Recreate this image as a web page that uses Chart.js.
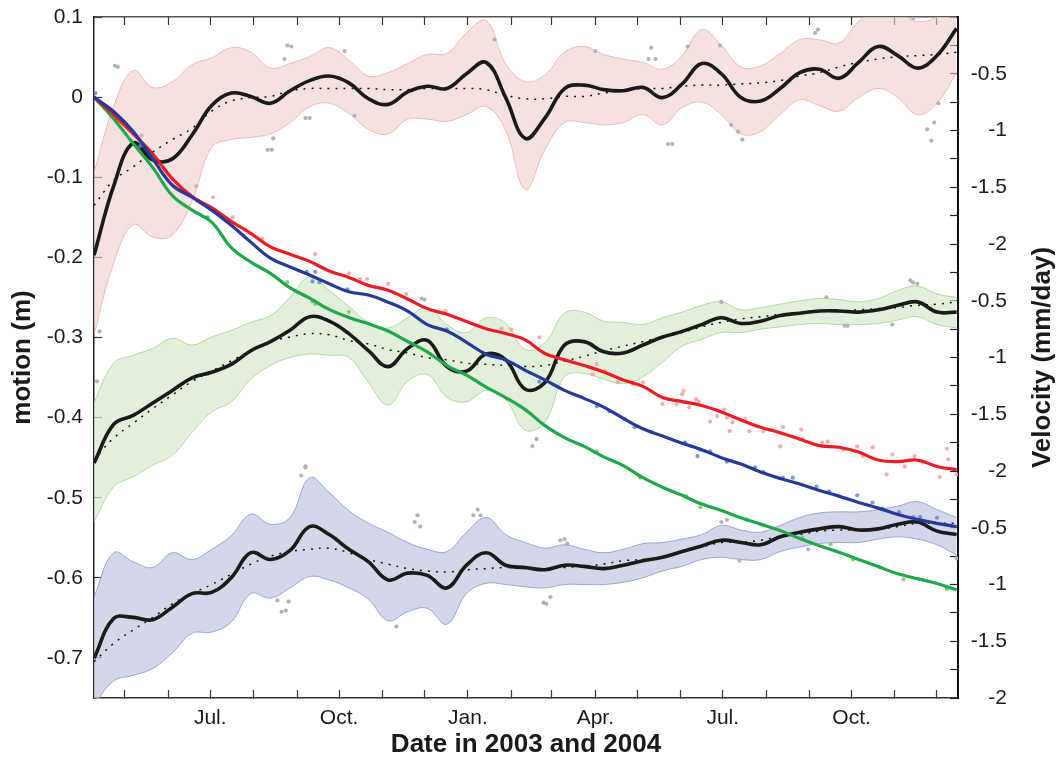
<!DOCTYPE html>
<html lang="en">
<head>
<meta charset="UTF-8">
<title>Motion and velocity, 2003-2004</title>
<script src="https://cdn.jsdelivr.net/npm/chart.js"></script>
<style>
  body { margin: 0; background: #fff; }
</style>
</head>
<body>
<canvas id="chart" width="1058" height="760"></canvas>
<script>
// x positions: day number counted from 1 Jan 2003
const days = [98, 112, 126, 140, 154, 168, 182, 196, 210, 224, 238, 252, 266, 280, 294,
  308, 322, 336, 350, 364, 378, 392, 406, 420, 434, 448, 462, 476, 490, 504,
  518, 532, 546, 560, 574, 588, 602, 616, 630, 644, 658, 672, 686, 700, 714];

// month ticks (1st of each month) and their labels
const monthStarts = [120, 151, 181, 212, 243, 273, 304, 334, 365, 396, 425, 456, 486, 517, 547, 578, 609, 639, 670, 700];
const monthLabels = ['', '', 'Jul.', '', '', 'Oct.', '', '', 'Jan.', '', '', 'Apr.', '', '', 'Jul.', '', '', 'Oct.', '', ''];

// left axis ticks (m)
const motionTicks = [-0.7, -0.6, -0.5, -0.4, -0.3, -0.2, -0.1, 0, 0.1];
const motionTickLabels = ['-0.7', '-0.6', '-0.5', '-0.4', '-0.3', '-0.2', '-0.1', '0', '0.1'];

// right axis: three stacked velocity panels, 2 mm/day each
const velocityTicks = [-6, -5.75, -5.5, -5.25, -5, -4.75, -4.5, -4.25, -4, -3.75, -3.5, -3.25,
  -3, -2.75, -2.5, -2.25, -2, -1.75, -1.5, -1.25, -1, -0.75, -0.5, -0.25, 0];
const velocityTickLabels = ['-2', '', '-1.5', '', '-1', '', '-0.5', '', '-2', '', '-1.5', '',
  '-1', '', '-0.5', '', '-2', '', '-1.5', '', '-1', '', '-0.5', '', ''];
const panelShift = [0, -2, -4];

// motion (m)
const redMotion = [0, -0.022, -0.046, -0.071, -0.102, -0.124, -0.138, -0.155, -0.170, -0.187, -0.196, -0.205, -0.217, -0.225, -0.235,
  -0.241, -0.252, -0.264, -0.271, -0.280, -0.289, -0.295, -0.303, -0.320, -0.328, -0.335, -0.343, -0.353, -0.361, -0.375,
  -0.380, -0.385, -0.393, -0.403, -0.412, -0.419, -0.427, -0.435, -0.437, -0.443, -0.453, -0.455, -0.453, -0.461, -0.465];
const blueMotion = [0, -0.018, -0.043, -0.077, -0.110, -0.125, -0.141, -0.160, -0.181, -0.201, -0.212, -0.222, -0.233, -0.243, -0.247,
  -0.256, -0.267, -0.284, -0.292, -0.306, -0.321, -0.328, -0.341, -0.353, -0.366, -0.376, -0.387, -0.401, -0.414, -0.423,
  -0.432, -0.440, -0.450, -0.458, -0.468, -0.476, -0.483, -0.491, -0.498, -0.506, -0.513, -0.521, -0.527, -0.532, -0.536];
const greenMotion = [0, -0.027, -0.058, -0.088, -0.123, -0.141, -0.156, -0.188, -0.206, -0.220, -0.238, -0.251, -0.265, -0.275, -0.283,
  -0.292, -0.305, -0.318, -0.335, -0.347, -0.362, -0.375, -0.390, -0.410, -0.425, -0.436, -0.449, -0.460, -0.475, -0.487,
  -0.497, -0.508, -0.516, -0.525, -0.533, -0.541, -0.551, -0.560, -0.568, -0.577, -0.586, -0.595, -0.601, -0.607, -0.615];

// motion samples (scatter)
const redDotDays = [132, 171, 183, 197, 206, 218, 256, 280, 288, 293, 308, 321, 349, 389, 396, 416, 454,
  457, 463, 472, 483, 490, 504, 514, 518, 519, 523, 528, 530, 538, 543, 548, 550, 552, 554, 563, 566,
  571, 576, 582, 588, 590, 603, 604, 618, 622, 633, 643, 647, 654, 664, 668, 677, 684, 690, 702, 707, 708, 714];
const redDotVals = [-0.048, -0.111, -0.125, -0.150, -0.165, -0.177, -0.196, -0.220, -0.227, -0.227, -0.233, -0.246, -0.267, -0.289, -0.290, -0.300, -0.346,
  -0.333, -0.342, -0.356, -0.358, -0.356, -0.383, -0.383, -0.371, -0.367, -0.387, -0.377, -0.380, -0.405, -0.398, -0.390, -0.400, -0.417, -0.406, -0.402, -0.417,
  -0.411, -0.417, -0.415, -0.436, -0.412, -0.415, -0.427, -0.431, -0.430, -0.440, -0.436, -0.448, -0.437, -0.471, -0.446, -0.461, -0.448, -0.456, -0.474, -0.439, -0.452, -0.471];
const blueDotDays = [99, 131, 179, 250, 256, 254, 259, 279, 350, 416, 457,
  466, 477, 484, 496, 520, 529, 531, 538, 550, 570, 576, 590, 597, 614, 623, 643, 654, 661, 673, 683, 688, 700];
const blueDotVals = [0.005, -0.061, -0.150, -0.218, -0.218, -0.230, -0.231, -0.240, -0.290, -0.355, -0.386,
  -0.392, -0.402, -0.412, -0.418, -0.431, -0.448, -0.440, -0.442, -0.455, -0.462, -0.468, -0.475, -0.475, -0.486, -0.492, -0.497, -0.506, -0.514, -0.518, -0.524, -0.524, -0.525];
const greenDotDays = [236, 254, 256, 280, 457, 488, 521, 531, 564, 604, 624, 640, 659, 676, 707];
const greenDotVals = [-0.231, -0.255, -0.258, -0.268, -0.442, -0.475, -0.498, -0.512, -0.527, -0.550, -0.558, -0.577, -0.587, -0.602, -0.614];

// velocity (mm/day), top panel
const topVel = [-2.10, -1.49, -1.11, -1.26, -1.25, -1.04, -0.78, -0.67, -0.70, -0.76, -0.65, -0.56, -0.52, -0.58, -0.72,
  -0.77, -0.66, -0.61, -0.63, -0.50, -0.40, -0.71, -1.07, -0.89, -0.63, -0.60, -0.64, -0.65, -0.62, -0.71,
  -0.59, -0.41, -0.50, -0.71, -0.74, -0.63, -0.49, -0.46, -0.54, -0.40, -0.26, -0.34, -0.45, -0.34, -0.10];
const topTrend = [-1.66, -1.44, -1.32, -1.19, -1.08, -0.98, -0.83, -0.74, -0.71, -0.70, -0.65, -0.63, -0.63, -0.63, -0.63,
  -0.64, -0.64, -0.63, -0.63, -0.63, -0.64, -0.69, -0.72, -0.72, -0.70, -0.70, -0.67, -0.65, -0.63, -0.63,
  -0.61, -0.60, -0.60, -0.59, -0.58, -0.56, -0.52, -0.49, -0.44, -0.40, -0.37, -0.35, -0.34, -0.33, -0.31];
const topUpper = [-1.37, -0.79, -0.47, -0.62, -0.57, -0.42, -0.36, -0.27, -0.31, -0.45, -0.41, -0.35, -0.27, -0.38, -0.52,
  -0.49, -0.41, -0.33, -0.32, -0.14, -0.03, -0.41, -0.57, -0.51, -0.31, -0.26, -0.33, -0.37, -0.40, -0.46,
  -0.34, -0.11, -0.25, -0.44, -0.43, -0.32, -0.20, -0.20, -0.23, -0.04, 0.06, 0.04, -0.04, 0.00, 0.11];
const topLower = [-2.80, -2.17, -1.83, -1.94, -1.92, -1.62, -1.15, -1.08, -1.06, -1.03, -0.93, -0.79, -0.76, -0.85, -0.99,
  -1.03, -0.90, -0.90, -0.92, -0.86, -0.79, -1.00, -1.52, -1.17, -0.93, -0.93, -0.95, -0.93, -0.86, -0.95,
  -0.80, -0.75, -0.86, -1.03, -1.01, -0.86, -0.73, -0.78, -0.83, -0.71, -0.63, -0.71, -0.86, -0.76, -0.49];

// middle panel
const midVel = [-1.93, -1.59, -1.51, -1.40, -1.29, -1.18, -1.13, -1.06, -0.94, -0.86, -0.76, -0.64, -0.68, -0.79, -0.94,
  -1.08, -0.92, -0.85, -1.08, -1.12, -0.97, -1.02, -1.28, -1.22, -0.89, -0.86, -0.95, -0.96, -0.89, -0.82,
  -0.77, -0.71, -0.65, -0.70, -0.68, -0.63, -0.61, -0.59, -0.59, -0.60, -0.58, -0.54, -0.51, -0.60, -0.60];
const midTrend = [-1.90, -1.71, -1.58, -1.45, -1.33, -1.21, -1.12, -1.03, -0.94, -0.86, -0.82, -0.79, -0.80, -0.85, -0.88,
  -0.93, -0.96, -1.00, -1.02, -1.05, -1.06, -1.07, -1.08, -1.07, -1.03, -0.99, -0.94, -0.90, -0.86, -0.82,
  -0.78, -0.73, -0.69, -0.66, -0.64, -0.62, -0.61, -0.59, -0.59, -0.58, -0.57, -0.56, -0.54, -0.53, -0.51];
const midUpper = [-1.40, -1.05, -0.98, -0.92, -0.83, -0.89, -0.82, -0.76, -0.69, -0.63, -0.47, -0.29, -0.41, -0.55, -0.69,
  -0.74, -0.65, -0.56, -0.71, -0.78, -0.65, -0.70, -0.93, -0.87, -0.61, -0.60, -0.68, -0.69, -0.71, -0.65,
  -0.60, -0.54, -0.51, -0.58, -0.56, -0.53, -0.50, -0.48, -0.49, -0.51, -0.48, -0.41, -0.37, -0.44, -0.47];
const midLower = [-2.45, -2.14, -2.05, -1.95, -1.86, -1.66, -1.48, -1.39, -1.19, -1.07, -1.00, -0.97, -0.98, -1.00, -1.22,
  -1.42, -1.21, -1.15, -1.35, -1.39, -1.29, -1.37, -1.64, -1.57, -1.17, -1.14, -1.19, -1.23, -1.17, -1.04,
  -0.90, -0.84, -0.78, -0.78, -0.75, -0.73, -0.71, -0.70, -0.71, -0.71, -0.70, -0.67, -0.64, -0.71, -0.74];

// bottom panel
const botVel = [-1.65, -1.30, -1.29, -1.31, -1.20, -1.08, -1.07, -0.94, -0.72, -0.78, -0.70, -0.49, -0.56, -0.69, -0.80,
  -0.96, -0.90, -0.92, -1.03, -0.83, -0.72, -0.83, -0.85, -0.87, -0.83, -0.84, -0.86, -0.83, -0.79, -0.76,
  -0.71, -0.66, -0.61, -0.63, -0.65, -0.58, -0.54, -0.51, -0.49, -0.52, -0.51, -0.47, -0.45, -0.53, -0.56];
const botTrend = [-1.68, -1.52, -1.40, -1.29, -1.17, -1.08, -1.00, -0.91, -0.82, -0.75, -0.71, -0.69, -0.68, -0.72, -0.78,
  -0.82, -0.86, -0.88, -0.89, -0.87, -0.86, -0.85, -0.86, -0.86, -0.85, -0.84, -0.82, -0.79, -0.78, -0.76,
  -0.71, -0.67, -0.63, -0.63, -0.61, -0.58, -0.56, -0.53, -0.52, -0.52, -0.51, -0.49, -0.46, -0.46, -0.46];
const botUpper = [-1.11, -0.72, -0.80, -0.85, -0.72, -0.78, -0.69, -0.57, -0.38, -0.47, -0.41, -0.06, -0.19, -0.35, -0.46,
  -0.54, -0.63, -0.69, -0.71, -0.54, -0.41, -0.56, -0.63, -0.68, -0.65, -0.69, -0.72, -0.69, -0.64, -0.63,
  -0.60, -0.56, -0.48, -0.52, -0.54, -0.48, -0.41, -0.37, -0.36, -0.36, -0.34, -0.31, -0.27, -0.34, -0.41];
const botLower = [-2.06, -1.85, -1.80, -1.74, -1.60, -1.43, -1.42, -1.33, -1.08, -1.12, -1.03, -0.93, -0.96, -1.03, -1.13,
  -1.32, -1.24, -1.21, -1.35, -1.08, -0.99, -1.00, -1.02, -1.03, -1.00, -1.00, -1.00, -0.98, -0.94, -0.88,
  -0.84, -0.78, -0.76, -0.78, -0.78, -0.71, -0.67, -0.64, -0.63, -0.63, -0.60, -0.58, -0.60, -0.65, -0.74];

// single velocity estimates (grey dots)
const topDotDays = [102, 113, 115, 222, 225, 226, 234, 236, 239, 249, 252, 277, 284, 384, 456, 494, 496, 499, 508, 511, 522, 545, 553, 558, 561, 613, 615, 683, 693, 696, 698, 701];
const topDotVals = [-2.77, -0.43, -0.44, -1.17, -1.17, -1.07, -0.37, -0.25, -0.26, -0.89, -0.89, -0.30, -0.87, -0.20, -0.30, -0.37, -0.27, -0.37, -1.12, -1.12, -0.26, -0.25, -0.95, -1.01, -1.08, -0.14, -0.11, -0.01, -0.99, -1.09, -0.93, -0.76];
const midDotDays = [100, 249, 332, 334, 411, 414, 546, 621, 634, 636, 668, 681, 683, 686];
const midDotVals = [-1.21, -1.97, -0.48, -0.49, -1.78, -1.72, -0.51, -0.47, -0.72, -0.72, -0.71, -0.32, -0.34, -0.35];
const botDotDays = [229, 232, 235, 237, 246, 249, 314, 327, 329, 331, 369, 372, 374, 419, 421, 424, 431, 434, 436, 546, 550, 559, 608, 714];
const botDotVals = [-1.14, -1.24, -1.23, -1.15, -0.04, 0.04, -1.37, -0.45, -0.39, -0.49, -0.39, -0.34, -0.39, -1.16, -1.17, -1.11, -0.61, -0.60, -0.64, -0.45, -0.43, -0.79, -0.69, -0.77];

const FONT = '"Liberation Sans", Arial, Helvetica, sans-serif';
Chart.defaults.font.family = FONT;
Chart.defaults.color = '#1a1a1a';

function pts(xs, ys, shift) {
  return xs.map((d, i) => ({ x: d, y: ys[i] + (shift || 0) }));
}

function line(data, color, width, axis, order, dash) {
  return {
    data: data, yAxisID: axis, borderColor: color, borderWidth: width,
    borderDash: dash || [], pointRadius: 0, fill: false,
    tension: 0.4, order: order
  };
}

function dots(data, color, axis, order) {
  return {
    data: data, yAxisID: axis, showLine: false, pointRadius: 2.1, pointBorderWidth: 0,
    pointBackgroundColor: color, borderColor: color, order: order
  };
}

function band(upper, lower, shift, fillColor, edgeColor) {
  const up = line(pts(days, upper, shift), edgeColor, 1, 'yv', 10);
  const low = line(pts(days, lower, shift), edgeColor, 1, 'yv', 10);
  low.fill = '-1';
  low.backgroundColor = fillColor;
  return [up, low];
}

const datasets = [
  ...band(topUpper, topLower, panelShift[0], 'rgba(240, 205, 205, 0.6)', 'rgba(236, 170, 170, 0.8)'),
  ...band(midUpper, midLower, panelShift[1], 'rgba(214, 234, 204, 0.7)', 'rgba(170, 214, 150, 0.9)'),
  ...band(botUpper, botLower, panelShift[2], 'rgba(196, 202, 226, 0.75)', 'rgba(140, 160, 214, 0.9)'),
  dots(pts(topDotDays, topDotVals, panelShift[0]), '#b2b2b6', 'yv', 8),
  dots(pts(midDotDays, midDotVals, panelShift[1]), '#b2b2b6', 'yv', 8),
  dots(pts(botDotDays, botDotVals, panelShift[2]), '#b2b2b6', 'yv', 8),
  line(pts(days, topTrend, panelShift[0]), '#111', 1.5, 'yv', 6, [2, 6]),
  line(pts(days, midTrend, panelShift[1]), '#111', 1.5, 'yv', 6, [2, 6]),
  line(pts(days, botTrend, panelShift[2]), '#111', 1.5, 'yv', 6, [2, 6]),
  line(pts(days, topVel, panelShift[0]), '#1a1a1a', 3.6, 'yv', 5),
  line(pts(days, midVel, panelShift[1]), '#1a1a1a', 3.6, 'yv', 5),
  line(pts(days, botVel, panelShift[2]), '#1a1a1a', 3.6, 'yv', 5),
  dots(pts(redDotDays, redDotVals), 'rgba(243, 160, 160, 0.85)', 'y', 3),
  dots(pts(blueDotDays, blueDotVals), 'rgba(95, 135, 212, 0.85)', 'y', 3),
  dots(pts(greenDotDays, greenDotVals), 'rgba(125, 198, 105, 0.85)', 'y', 3),
  line(pts(days, greenMotion), '#1fa84a', 3.2, 'y', 2),
  line(pts(days, blueMotion), '#26399a', 3.2, 'y', 1),
  line(pts(days, redMotion), '#ec1c24', 3.2, 'y', 1)
];

const setMonthTicks = scale => { scale.ticks = monthStarts.map(v => ({ value: v })); };
const tickGrid = { drawOnChartArea: false, drawTicks: true, tickLength: -8, color: '#333', tickWidth: 1.2 };

// fixed box sizes so the plot area sits where it does in the figure
function fixSize(w, h) {
  return s => {
    if (w) s.width = w;
    if (h) s.height = h;
    s.paddingTop = 0; s.paddingBottom = 0; s.paddingLeft = 0; s.paddingRight = 0;
  };
}

// right-hand title reads bottom to top, like the left one
const velocityTitle = {
  id: 'velocityTitle',
  afterDraw(chart) {
    const ctx = chart.ctx;
    const area = chart.chartArea;
    ctx.save();
    ctx.translate(1043, (area.top + area.bottom) / 2);
    ctx.rotate(-Math.PI / 2);
    ctx.font = 'bold 26px ' + FONT;
    ctx.fillStyle = '#1a1a1a';
    ctx.textAlign = 'center';
    ctx.textBaseline = 'middle';
    ctx.fillText('Velocity (mm/day)', 0, 0);
    ctx.restore();
  }
};

new Chart(document.getElementById('chart'), {
  type: 'line',
  data: { datasets: datasets },
  options: {
    responsive: false,
    animation: false,
    devicePixelRatio: 1,
    layout: { padding: { left: 0, top: 0, bottom: 0, right: 51 }, autoPadding: false },
    plugins: { legend: { display: false }, tooltip: { enabled: false } },
    scales: {
      x: {
        type: 'linear', position: 'bottom', min: 98, max: 715,
        afterBuildTicks: setMonthTicks,
        afterFit: fixSize(0, 62),
        ticks: { autoSkip: false, maxRotation: 0, minRotation: 0, padding: 16, font: { size: 21 },
          callback: (v, i) => monthLabels[i] },
        grid: tickGrid,
        border: { color: '#333', width: 1.5 },
        title: { display: true, text: 'Date in 2003 and 2004', font: { size: 26, weight: 'bold' }, padding: { top: 0, bottom: 0 } }
      },
      x2: {
        type: 'linear', position: 'top', min: 98, max: 715,
        afterBuildTicks: setMonthTicks,
        afterFit: fixSize(0, 17),
        ticks: { display: false },
        grid: tickGrid,
        border: { color: '#555', width: 1.5 }
      },
      y: {
        type: 'linear', position: 'left', min: -0.75, max: 0.1,
        afterBuildTicks: s => { s.ticks = motionTicks.map(v => ({ value: v })); },
        afterFit: fixSize(94, 0),
        ticks: { padding: 19, font: { size: 21 }, callback: (v, i) => motionTickLabels[i] },
        grid: tickGrid,
        border: { color: '#222', width: 1.5 },
        title: { display: true, text: 'motion (m)', font: { size: 26, weight: 'bold' }, padding: { top: 7, bottom: 0 } }
      },
      yv: {
        type: 'linear', position: 'right', min: -6, max: 0,
        afterBuildTicks: s => { s.ticks = velocityTicks.map(v => ({ value: v })); },
        afterFit: fixSize(49, 0),
        ticks: { padding: 20, crossAlign: 'far', font: { size: 21 }, callback: (v, i) => velocityTickLabels[i] },
        grid: { drawOnChartArea: false, drawTicks: true, tickLength: -8, color: '#222', tickWidth: 1.2 },
        border: { color: '#111', width: 2 }
      }
    }
  },
  plugins: [velocityTitle]
});
</script>
</body>
</html>
